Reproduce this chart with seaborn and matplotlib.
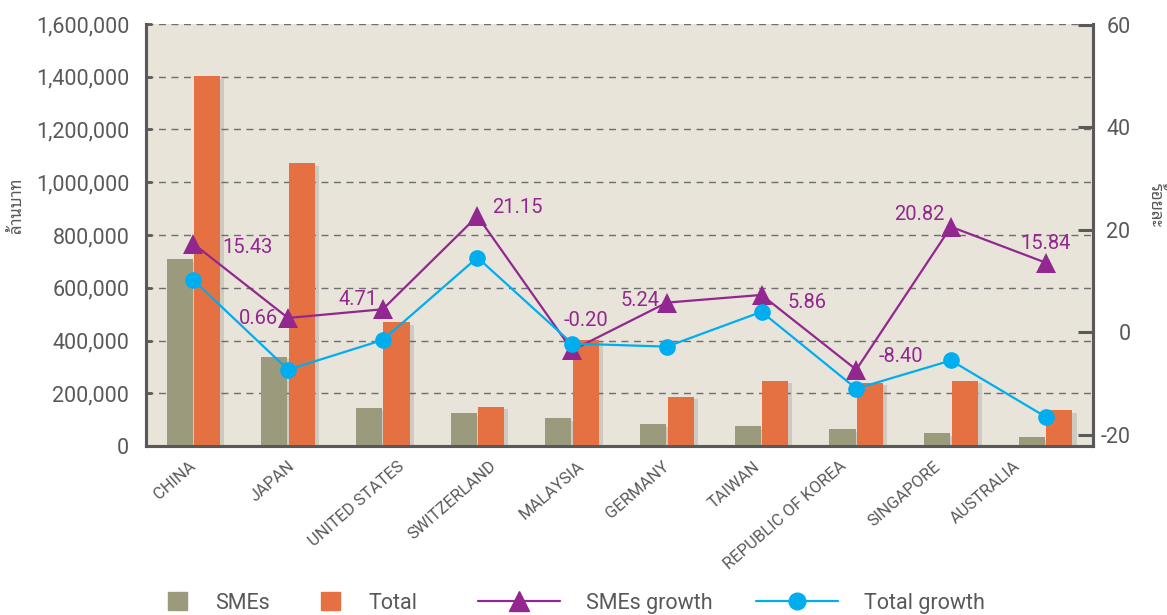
import numpy as np
import pandas as pd
import seaborn as sns
import matplotlib.pyplot as plt
import matplotlib.patheffects as pe
from matplotlib import font_manager
from matplotlib.ft2font import FT2Font
from matplotlib.lines import Line2D
from matplotlib.patches import Patch
from matplotlib.transforms import ScaledTranslation

countries = ['CHINA', 'JAPAN', 'UNITED STATES', 'SWITZERLAND', 'MALAYSIA',
             'GERMANY', 'TAIWAN', 'REPUBLIC OF KOREA', 'SINGAPORE', 'AUSTRALIA']
smes = [708000, 339000, 145000, 126000, 107000, 84000, 76000, 65000, 50000, 34000]
total = [1403000, 1074000, 469000, 149000, 403000, 187000, 248000, 240000, 248000, 137000]
# position des triangles
smes_growth = [17.3, 2.8, 4.5, 22.7, -3.5, 5.8, 7.3, -7.3, 20.6, 13.6]
# valeurs imprimées dans les étiquettes
smes_growth_labels = ['15.43', '0.66', '4.71', '21.15', '-0.20', '5.24', '5.86', '-8.40', '20.82', '15.84']
total_growth = [10.2, -7.3, -1.5, 14.6, -2.2, -2.8, 4.0, -11.0, -5.5, -16.5]

# police avec les glyphes thaï pour les titres des axes
thai_names = []
for f in font_manager.fontManager.ttflist:
    try:
        if 0x0E25 in FT2Font(f.fname).get_charmap():
            thai_names.append(f.name)
    except Exception:
        pass
thai_font = 'DejaVu Sans'
for nom in ['Noto Sans Thai Looped', 'Noto Sans Thai', 'Sarabun', 'IBM Plex Sans Thai Looped',
            'IBM Plex Sans Thai', 'Anuphan']:
    if nom in thai_names:
        thai_font = nom
        break
else:
    if thai_names:
        thai_font = thai_names[0]

sns.set_style('white')
plt.rcParams['font.family'] = ['Roboto', 'DejaVu Sans']
plt.rcParams['axes.unicode_minus'] = False

c_smes = '#9C9A7C'
c_total = '#E57143'
c_purple = '#92278F'
c_cyan = '#00AEEF'
c_text = '#595959'

df = pd.DataFrame({'country': countries, 'SMEs': smes, 'Total': total})
df_long = df.melt(id_vars='country', var_name='type', value_name='value')

fig, ax = plt.subplots(figsize=(11.67, 6.15), dpi=100)
fig.subplots_adjust(left=146 / 1167, right=1093 / 1167, top=1 - 24 / 615, bottom=1 - 446 / 615)
ax.set_facecolor('#E8E4DA')

sns.barplot(data=df_long, x='country', y='value', hue='type',
            palette=[c_smes, c_total], width=0.58, gap=0.05, ax=ax,
            legend=False, saturation=1, linewidth=0)
for p in ax.patches:
    p.set_zorder(3)
    p.set_path_effects([pe.SimplePatchShadow(offset=(3, -2), shadow_rgbFace='#555555', alpha=0.18),
                        pe.Normal()])

ax.set_ylim(0, 1600000)
ax.set_xlim(-0.5, 9.5)
ax.set_yticks(np.arange(0, 1600001, 200000))
ax.set_yticklabels([f'{v:,}' for v in range(0, 1600001, 200000)])
ax.yaxis.grid(True, linestyle=(0, (5, 4)), color='#6E6E6E', linewidth=1)
ax.set_axisbelow(True)
ax.set_xlabel('')
ax.set_ylabel('ล้านบาท', fontsize=12, color=c_text, family=[thai_font, 'DejaVu Sans'])
ax.yaxis.set_label_coords(-0.128, 0.571)
ax.set_xticks(np.arange(10))
ax.set_xticklabels(countries, rotation=41, ha='right', rotation_mode='anchor',
                   fontsize=12, color=c_text)
ax.tick_params(axis='x', length=0, pad=9)
# décalage horizontal de chaque nom de pays (pixels)
decalages = [-5, 0, 15, 12, 5, -5, -9, -17, -18, -33]
for lab, d in zip(ax.get_xticklabels(), decalages):
    lab.set_transform(lab.get_transform() + ScaledTranslation(d / 100, 0, fig.dpi_scale_trans))
ax.tick_params(axis='y', direction='in', length=4, width=2, color=c_text,
               labelsize=15.5, labelcolor=c_text, pad=12)
# petites marques entre les catégories
ax.set_xticks(np.arange(0.5, 9.5, 1), minor=True)
ax.tick_params(axis='x', which='minor', direction='in', length=7, width=1.5, color=c_text)

ax2 = ax.twinx()
sns.lineplot(x=np.arange(10), y=smes_growth, ax=ax2, color=c_purple, marker='^',
             markersize=15, linewidth=1.6, markeredgewidth=0, sort=False)
sns.lineplot(x=np.arange(10), y=total_growth, ax=ax2, color=c_cyan, marker='o',
             markersize=12, linewidth=1.6, markeredgewidth=0, sort=False)
ax2.set_ylim(-22.2, 60.2)
ax2.set_yticks([-20, 0, 20, 40, 60])
ax2.tick_params(axis='y', direction='in', length=11, width=2.2, color=c_text,
                labelsize=15.5, labelcolor=c_text, pad=27)
for lab in ax2.get_yticklabels():
    lab.set_horizontalalignment('right')
ax2.set_ylabel('ร้อยละ', fontsize=12, color=c_text, rotation=270,
               family=[thai_font, 'DejaVu Sans'])
ax2.yaxis.set_label_coords(1.074, 0.571)

for a in (ax, ax2):
    a.spines['top'].set_visible(False)
    for s in ('left', 'right', 'bottom'):
        a.spines[s].set_color(c_text)
        a.spines[s].set_linewidth(2.2)

# étiquettes de la croissance des SMEs (décalages en pixels)
offsets = [(29, -4, 'left'), (-10, -1, 'right'), (-5, 10, 'right'), (15, 9, 'left'),
           (-9, 30, 'left'), (-7, 2, 'right'), (26, -8, 'left'), (22, 13, 'left'),
           (-6, 12, 'right'), (0, 19, 'center')]
for i, (v, txt, (dx, dy, ha)) in enumerate(zip(smes_growth, smes_growth_labels, offsets)):
    ax2.annotate(txt, (i, v), xytext=(dx, dy), textcoords='offset pixels',
                 ha=ha, va='center', fontsize=14.5, color=c_purple, zorder=6)

bar_handles = [Patch(color=c_smes, label='SMEs'), Patch(color=c_total, label='Total')]
line_handles = [
    Line2D([], [], color=c_purple, marker='^', markersize=15, linewidth=1.6, label='SMEs growth'),
    Line2D([], [], color=c_cyan, marker='o', markersize=12, linewidth=1.6, label='Total growth'),
]
fig.legend(handles=bar_handles, loc='center left', ncol=2, frameon=False,
           bbox_to_anchor=(168 / 1167, 0.0195), borderaxespad=0, borderpad=0,
           fontsize=15.5, labelcolor=c_text, handlelength=0.88, handleheight=0.88,
           handletextpad=1.3, columnspacing=2.4)
fig.legend(handles=line_handles, loc='center left', ncol=2, frameon=False,
           bbox_to_anchor=(478 / 1167, 0.0195), borderaxespad=0, borderpad=0,
           fontsize=15.5, labelcolor=c_text, handlelength=3.8,
           handletextpad=1.2, columnspacing=2.05)

plt.savefig('out.png', dpi=100)
